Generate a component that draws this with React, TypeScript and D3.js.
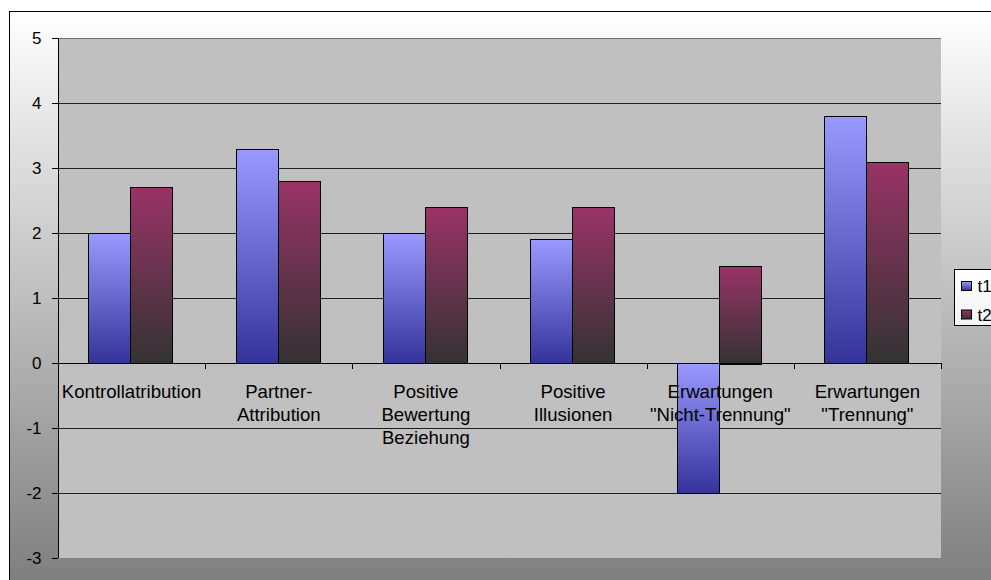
import React from "react";
import * as d3 from "d3";

const categories: string[][] = [
  ["Kontrollatribution"],
  ["Partner-", "Attribution"],
  ["Positive", "Bewertung", "Beziehung"],
  ["Positive", "Illusionen"],
  ["Erwartungen", "\"Nicht-Trennung\""],
  ["Erwartungen", "\"Trennung\""],
];
const seriesNames = ["t1", "t2"];
const t1Values = [2.0, 3.3, 2.0, 1.9, -2.0, 3.8];
const t2Values = [2.7, 2.8, 2.4, 2.4, 1.5, 3.1];
const yTicks = [5, 4, 3, 2, 1, 0, -1, -2, -3];

const W = 991;
const H = 580;
const plot = { left: 58, right: 941, top: 38, bottom: 558 };
const font = "'Liberation Sans', Arial, sans-serif";

export default function App() {
  const y = d3.scaleLinear().domain([-3, 5]).range([plot.bottom, plot.top]);
  const x0 = d3
    .scaleBand<number>()
    .domain(d3.range(categories.length))
    .range([plot.left, plot.right])
    .paddingInner(0)
    .paddingOuter(0);
  const bw = x0.bandwidth();
  const barW = bw * 0.285;
  const leadGap = bw * 0.207;
  const series = [t1Values, t2Values];
  const fills = ["url(#gT1)", "url(#gT2)"];
  const boundaries = d3.range(categories.length + 1).map((i) => plot.left + i * bw);

  return (
    <svg width={W} height={H} style={{ position: "absolute", left: 0, top: 0 }}>
      <defs>
        <linearGradient id="bg" x1="0" y1="0" x2="0" y2="1">
          <stop offset="0" stopColor="#ffffff" />
          <stop offset="1" stopColor="#787878" />
        </linearGradient>
        <linearGradient id="gT1" x1="0" y1="0" x2="0" y2="1">
          <stop offset="0" stopColor="#9999ff" />
          <stop offset="1" stopColor="#333399" />
        </linearGradient>
        <linearGradient id="gT2" x1="0" y1="0" x2="0" y2="1">
          <stop offset="0" stopColor="#993366" />
          <stop offset="1" stopColor="#333333" />
        </linearGradient>
        <linearGradient id="legBg" x1="0" y1="0" x2="0" y2="1">
          <stop offset="0" stopColor="#ffffff" />
          <stop offset="1" stopColor="#f4f4f4" />
        </linearGradient>
      </defs>
      <rect x={0} y={0} width={W} height={H} fill="#ffffff" />
      <rect x={9.5} y={11.5} width={W + 20} height={H + 20} fill="url(#bg)" stroke="#000" strokeWidth={1} />
      <rect
        x={plot.left}
        y={plot.top}
        width={plot.right - plot.left}
        height={plot.bottom - plot.top}
        fill="#c0c0c0"
      />
      {yTicks.map((t) => (
        <g key={t}>
          {t !== 0 && t !== -3 && (
            <line
              x1={plot.left}
              x2={plot.right}
              y1={Math.round(y(t)) + 0.5}
              y2={Math.round(y(t)) + 0.5}
              stroke={t === 5 ? "#707070" : "#202020"}
              strokeWidth={1}
            />
          )}
          <line
            x1={plot.left - 6}
            x2={plot.left}
            y1={Math.round(y(t)) + 0.5}
            y2={Math.round(y(t)) + 0.5}
            stroke="#000"
          />
          <text
            x={41.5}
            y={y(t)}
            dy="0.36em"
            textAnchor="end"
            fontFamily={font}
            fontSize={17}
            fill="#000"
          >
            {t}
          </text>
        </g>
      ))}
      {categories.map((_, i) =>
        series.map((vals, s) => {
          const v = vals[i];
          const xStart = (x0(i) as number) + leadGap + s * barW;
          const y1 = y(Math.max(0, v));
          const y2 = y(Math.min(0, v));
          return (
            <rect
              key={`${i}-${s}`}
              x={Math.round(xStart) + 0.5}
              y={Math.round(y1) + 0.5}
              width={Math.round(barW)}
              height={Math.round(y2 - y1)}
              fill={fills[s]}
              stroke="#000"
              strokeWidth={1}
            />
          );
        })
      )}
      <line
        x1={plot.left}
        x2={plot.right}
        y1={Math.round(y(0)) + 0.5}
        y2={Math.round(y(0)) + 0.5}
        stroke="#000"
      />
      {boundaries.map((bx, i) => (
        <line
          key={i}
          x1={Math.round(bx) + 0.5}
          x2={Math.round(bx) + 0.5}
          y1={y(0)}
          y2={y(0) + 6}
          stroke="#000"
        />
      ))}
      <line
        x1={plot.left + 0.5}
        x2={plot.left + 0.5}
        y1={plot.top}
        y2={plot.bottom}
        stroke="#000"
      />
      {categories.map((lines, i) => (
        <text
          key={i}
          x={(x0(i) as number) + bw / 2}
          y={398}
          textAnchor="middle"
          fontFamily={font}
          fontSize={18.6}
          fill="#000"
        >
          {lines.map((ln, k) => (
            <tspan key={k} x={(x0(i) as number) + bw / 2} dy={k === 0 ? 0 : 23}>
              {ln}
            </tspan>
          ))}
        </text>
      ))}
      <g>
        <rect x={954.5} y={269.5} width={60} height={56} fill="url(#legBg)" stroke="#000" />
        {seriesNames.map((name, s) => (
          <g key={name}>
            <rect
              x={961.5}
              y={281.5 + s * 28.5}
              width={10}
              height={9}
              fill={fills[s]}
              stroke="#000"
            />
            <text
              x={977.5}
              y={286 + s * 28.5}
              dy="0.36em"
              fontFamily={font}
              fontSize={17}
              fill="#000"
            >
              {name}
            </text>
          </g>
        ))}
      </g>
    </svg>
  );
}
